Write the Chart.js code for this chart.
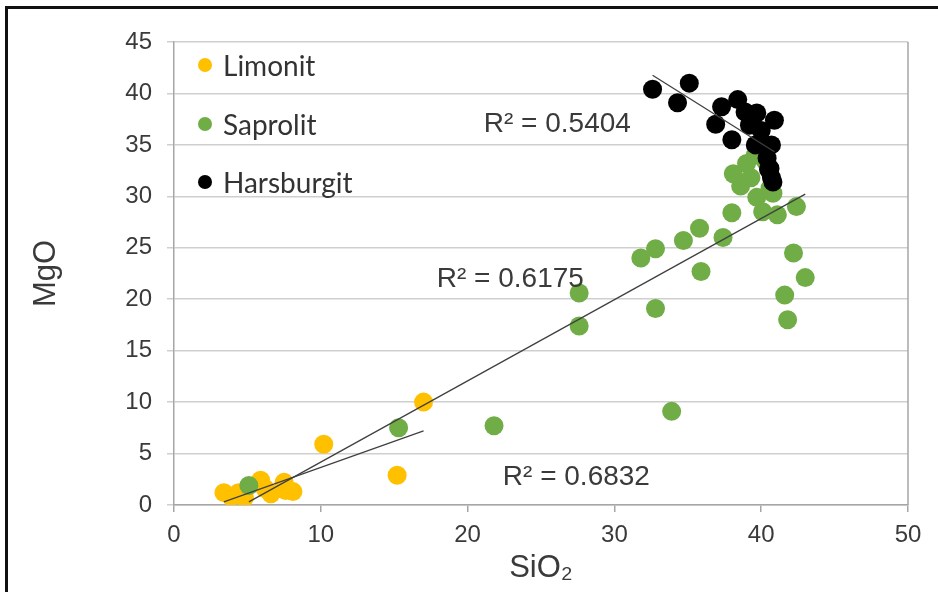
<!DOCTYPE html>
<html>
<head>
<meta charset="utf-8">
<title>MgO vs SiO2</title>
<script src="https://cdn.jsdelivr.net/npm/chart.js@4.4.1/dist/chart.umd.min.js"></script>
<style>
    html, body { margin: 0; padding: 0; background: #fff; overflow: hidden; }
    .wrap { position: relative; width: 938px; height: 592px; overflow: hidden; }
    .frame {
        position: absolute; left: 5px; top: 6px; width: 980px; height: 640px;
        border-left: 3px solid #111; border-top: 3px solid #111; pointer-events: none;
    }
    #legend {
        position: absolute; left: 198px; top: 36px;
        font-family: Lato, 'Open Sans', sans-serif; font-size: 28px; color: #333;
    }
    .lg-item { display: flex; align-items: center; height: 58.5px; }
    .lg-dot { width: 14px; height: 14px; border-radius: 50%; margin-right: 11px; }
</style>
</head>
<body>
<div class="wrap">
    <canvas id="mgoChart"></canvas>
    <div id="legend"></div>
    <div class="frame"></div>
</div>
<script>
// ─── DATA ───
const seriesNames = ['Limonit', 'Saprolit', 'Harsburgit'];
const seriesColors = ['#FFC000', '#70AD47', '#000000'];

const limonitSiO2 = [3.4, 3.9, 4.4, 4.8, 5.9, 6.2, 6.6, 7.5, 7.6, 8.1, 10.2, 15.2, 17.0];
const limonitMgO  = [1.2, 0.8, 1.2, 0.7, 2.4, 1.6, 1.1, 2.2, 1.4, 1.3, 5.9, 2.9, 10.0];

const saprolitSiO2 = [5.1, 15.3, 21.8, 27.6, 27.6, 31.8, 32.8, 32.8, 33.9, 34.7, 35.8, 35.9, 37.4, 38.0,
                      38.1, 38.6, 39.0, 39.3, 39.7, 40.1, 40.6, 40.8, 41.1, 42.4, 42.2, 43.0, 41.6, 41.8,
                      40.5, 39.6, 40.3];
const saprolitMgO  = [1.9, 7.5, 7.7, 20.6, 17.4, 24.0, 24.9, 19.1, 9.1, 25.7, 26.9, 22.7, 26.0, 28.4,
                      32.2, 31.0, 33.2, 31.8, 29.9, 28.5, 30.8, 30.3, 28.2, 29.0, 24.5, 22.1, 20.4, 18.0,
                      32.8, 34.0, 33.4];

const harsburgitSiO2 = [32.6, 34.3, 35.1, 36.9, 37.3, 38.0, 38.4, 38.9, 39.2, 39.7, 40.0, 39.6, 40.3, 40.9,
                        40.7, 40.4, 40.6, 40.7, 40.8, 40.5];
const harsburgitMgO  = [40.4, 39.1, 41.0, 37.0, 38.7, 35.5, 39.4, 38.2, 36.9, 38.1, 36.4, 35.0, 35.0, 37.4,
                        35.0, 33.7, 32.7, 31.8, 31.4, 32.6];

const xTicks = [0, 10, 20, 30, 40, 50];
const yTicks = [0, 5, 10, 15, 20, 25, 30, 35, 40, 45];
const r2Labels = ['R² = 0.5404', 'R² = 0.6175', 'R² = 0.6832'];

// ─── HELPERS ───
const toPoints = (xs, ys) => xs.map((x, i) => ({ x: x, y: ys[i] }));

// least squares line, drawn from min to max x like an Excel trendline
function trendLine(xs, ys) {
    const n = xs.length;
    const mx = xs.reduce((a, b) => a + b, 0) / n;
    const my = ys.reduce((a, b) => a + b, 0) / n;
    let sxy = 0, sxx = 0;
    xs.forEach((x, i) => { sxy += (x - mx) * (ys[i] - my); sxx += (x - mx) * (x - mx); });
    const m = sxy / sxx, b = my - m * mx;
    const x0 = Math.min(...xs), x1 = Math.max(...xs);
    return [{ x: x0, y: m * x0 + b }, { x: x1, y: m * x1 + b }];
}

const tickFont = { family: "'Liberation Sans', Arial, sans-serif", size: 24 };
const textColor = '#3a3a3a';

// R² text placed in data units, next to each trendline
const r2Pos = [[21.1, 36.3], [17.9, 21.2], [22.4, 1.94]];
const r2Plugin = {
    id: 'r2Labels',
    afterDatasetsDraw(chart) {
        const { ctx, scales: { x, y } } = chart;
        ctx.save();
        ctx.font = "28px 'Liberation Sans', Arial, sans-serif";
        ctx.fillStyle = textColor;
        ctx.textBaseline = 'alphabetic';
        r2Labels.forEach((t, i) => {
            ctx.fillText(t, x.getPixelForValue(r2Pos[i][0]), y.getPixelForValue(r2Pos[i][1]));
        });
        ctx.restore();
    }
};

const plotBorder = {
    id: 'plotBorder',
    beforeDatasetsDraw(chart) {
        const { ctx, chartArea: a } = chart;
        ctx.save();
        ctx.strokeStyle = '#a6a6a6';
        ctx.lineWidth = 1.5;
        ctx.beginPath();
        ctx.moveTo(a.right, a.top);
        ctx.lineTo(a.right, a.bottom);
        ctx.stroke();
        ctx.restore();
    }
};

// ─── LEGEND (html) ───
const legendEl = document.getElementById('legend');
seriesNames.forEach((name, i) => {
    const item = document.createElement('div');
    item.className = 'lg-item';
    item.innerHTML = '<span class="lg-dot" style="background:' + seriesColors[i] + '"></span><span>' + name + '</span>';
    legendEl.appendChild(item);
});

// ─── CHART ───
const pointSets = [
    [limonitSiO2, limonitMgO],
    [saprolitSiO2, saprolitMgO],
    [harsburgitSiO2, harsburgitMgO]
];

const datasets = pointSets.map((s, i) => ({
    label: seriesNames[i],
    data: toPoints(s[0], s[1]),
    backgroundColor: seriesColors[i],
    borderWidth: 0,
    pointRadius: 9.5,
    pointHoverRadius: 9.5,
    order: 3 - i
}));

pointSets.forEach(s => {
    datasets.push({
        type: 'line',
        data: trendLine(s[0], s[1]),
        borderColor: '#404040',
        borderWidth: 1.3,
        pointRadius: 0,
        fill: false,
        order: 0
    });
});

new Chart(document.getElementById('mgoChart'), {
    type: 'scatter',
    data: { datasets: datasets },
    options: {
        responsive: true,
        maintainAspectRatio: false,
        animation: false,
        layout: { padding: { left: 0, top: 42, right: 30, bottom: 0 } },
        plugins: {
            legend: { display: false },
            tooltip: { enabled: false }
        },
        scales: {
            x: {
                type: 'linear',
                min: 0,
                max: 50,
                afterBuildTicks: s => { s.ticks = xTicks.map(v => ({ value: v })); },
                afterFit: s => { s.height = 87; },
                grid: { drawOnChartArea: false, color: '#a6a6a6', lineWidth: 1.5, tickLength: 7 },
                border: { color: '#a6a6a6', width: 1.5 },
                ticks: { color: textColor, font: tickFont, padding: 9, maxRotation: 0 },
                title: {
                    display: true,
                    text: 'SiO₂',
                    color: textColor,
                    font: { family: "'Liberation Sans', Arial, sans-serif", size: 31, lineHeight: 1 },
                    padding: { top: 0, bottom: 8 }
                }
            },
            y: {
                min: 0,
                max: 45,
                afterBuildTicks: s => { s.ticks = yTicks.map(v => ({ value: v })); },
                afterFit: s => { s.width = 174; },
                grid: { color: '#cfcfcf', lineWidth: 1.5, tickLength: 7 },
                border: { color: '#a6a6a6', width: 1.5 },
                ticks: { color: textColor, font: tickFont, padding: 15 },
                title: {
                    display: true,
                    text: 'MgO',
                    color: textColor,
                    font: { family: "'Liberation Sans', Arial, sans-serif", size: 31, lineHeight: 1 },
                    padding: { top: 31, bottom: 0 }
                }
            }
        }
    },
    plugins: [plotBorder, r2Plugin]
});
</script>
</body>
</html>
